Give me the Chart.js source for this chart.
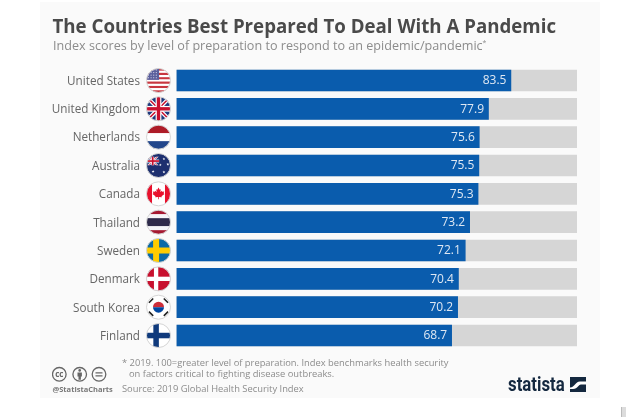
<!DOCTYPE html>
<html><head><meta charset="utf-8">
<script src="https://cdn.jsdelivr.net/npm/chart.js@4"></script>
<style>
html,body{margin:0;padding:0;background:#fff;width:626px;height:417px;overflow:hidden;font-family:"Open Sans",sans-serif}
#panel{position:absolute;left:40px;top:2px;width:560px;height:396px;background:#fafafa}
#corner{position:absolute;left:621px;top:407px;width:5px;height:10px;background:#dcdcdc;border-left:1px solid #bbb;box-sizing:border-box}
canvas{position:absolute;left:0;top:0}
.t{position:absolute;white-space:nowrap}
#title{left:52.5px;top:13px;font-size:18.7px;font-weight:700;color:#4a4a4a;line-height:26px}
#sub{left:53px;top:37px;font-size:12.6px;color:#8c8c8c;line-height:18px}
#sub sup{font-size:7px;line-height:0}
.fn{font-size:9.35px;color:#8c8c8c;line-height:12px}
#handle{left:52.5px;top:384px;font-size:7.5px;font-weight:700;color:#777;line-height:10px}
#logo{left:507.5px;top:372px;font-family:"Roboto",sans-serif;font-weight:700;font-size:20px;color:#14283f;line-height:24px;transform-origin:left center;transform:scaleX(.84)}
svg{position:absolute}
</style></head><body>
<div id="panel"></div>
<div id="corner"></div>
<canvas id="c" width="626" height="417"></canvas>
<div class="t" id="title">The Countries Best Prepared To Deal With A Pandemic</div>
<div class="t" id="sub">Index scores by level of preparation to respond to an epidemic/pandemic<sup>*</sup></div>
<div class="t fn" style="left:122px;top:357px">* 2019. 100=greater level of preparation. Index benchmarks health security</div>
<div class="t fn" style="left:129px;top:368px">on factors critical to fighting disease outbreaks.</div>
<div class="t fn" style="left:122px;top:383px">Source: 2019 Global Health Security Index</div>
<div class="t" id="handle">@StatistaCharts</div>
<svg style="left:52px;top:366px" width="60" height="18" viewBox="0 0 60 18" fill="none" stroke="#666" stroke-width="1.3">
<circle cx="7.3" cy="8.3" r="6.8"/><circle cx="27.7" cy="8.3" r="6.8"/><circle cx="47" cy="8.3" r="6.8"/>
<text x="7.3" y="11" text-anchor="middle" font-size="8" font-weight="700" fill="#666" stroke="none" font-family="Open Sans">cc</text>
<circle cx="27.7" cy="4.4" r="1.3" fill="#666" stroke="none"/><path d="M25.5 6.4h4.4v4.2h-1v3.2h-2.4v-3.2h-1z" fill="#666" stroke="none"/>
<path d="M43.5 6.8h7M43.5 9.8h7"/>
</svg>
<div class="t" id="logo">statista</div>
<svg style="left:570px;top:377px" width="16" height="15" viewBox="0 0 16 15"><rect width="16" height="15" fill="#14283f"/><path d="M0 10.5C5 10.5 5 4.5 10 4.5H16V7.5H11C8 7.5 8 12 3 12H0Z" fill="#fff"/></svg>
<script>
const categories=["United States","United Kingdom","Netherlands","Australia","Canada","Thailand","Sweden","Denmark","South Korea","Finland"];
const scores=[83.5,77.9,75.6,75.5,75.3,73.2,72.1,70.4,70.2,68.7];
const maxScores=[100,100,100,100,100,100,100,100,100,100];

function stripes(g,x,y,r,cols,w){const n=w||cols.map(()=>1),s=n.reduce((a,b)=>a+b,0);let t=y-r;cols.forEach((c,i)=>{const h=2*r*n[i]/s;g.fillStyle=c;g.fillRect(x-r,t,2*r,h+.3);t+=h;});}
function nordic(g,x,y,r,bg,cr,w){g.fillStyle=bg;g.fillRect(x-r,y-r,2*r,2*r);g.fillStyle=cr;g.fillRect(x-r,y-r*w/2,2*r,r*w);g.fillRect(x-r*.2-r*w/2,y-r,r*w,2*r);}
function star(g,x,y,s,c){g.fillStyle=c;g.beginPath();for(let i=0;i<10;i++){const a=-Math.PI/2+i*Math.PI/5,q=i%2?s*.42:s;g.lineTo(x+q*Math.cos(a),y+q*Math.sin(a));}g.fill();}
function leaf(g,x,y,s,c){const p=[[0,-1],[.2,-.62],[.38,-.72],[.3,-.22],[.55,-.48],[.62,-.3],[.95,-.35],[.85,-.05],[1,.05],[.5,.45],[.55,.62],[.06,.55],[.06,.95],[-.06,.95],[-.06,.55],[-.55,.62],[-.5,.45],[-1,.05],[-.85,-.05],[-.95,-.35],[-.62,-.3],[-.55,-.48],[-.3,-.22],[-.38,-.72],[-.2,-.62]];g.fillStyle=c;g.beginPath();p.forEach(q=>g.lineTo(x+q[0]*s,y+q[1]*s));g.closePath();g.fill();}
function union(g,x,y,r,u){g.fillStyle="#1f3a7d";g.fillRect(x-r,y-r,2*r,2*r);g.lineCap="butt";g.strokeStyle="#fff";g.lineWidth=u*.32;
 g.beginPath();g.moveTo(x-r,y-r);g.lineTo(x+r,y+r);g.moveTo(x+r,y-r);g.lineTo(x-r,y+r);g.stroke();
 g.strokeStyle="#c8102e";g.lineWidth=u*.12;g.stroke();
 g.fillStyle="#fff";g.fillRect(x-r,y-u*.24,2*r,u*.48);g.fillRect(x-u*.24,y-r,u*.48,2*r);
 g.fillStyle="#c8102e";g.fillRect(x-r,y-u*.14,2*r,u*.28);g.fillRect(x-u*.14,y-r,u*.28,2*r);}
const flags={
"United States":(g,x,y,r)=>{const n=11;for(let i=0;i<n;i++){g.fillStyle=i%2?"#fff":"#c8363f";g.fillRect(x-r,y-r+i*2*r/n,2*r,2*r/n+.3);}g.fillStyle="#5a5f9c";g.fillRect(x-r,y-r,r*1.05,r*.95);g.fillStyle="#d8d8ea";for(let a=0;a<4;a++)for(let b=0;b<4;b++)g.fillRect(x-r+1.5+b*2.6,y-r+1+a*2.6,1,1);},
"United Kingdom":(g,x,y,r)=>union(g,x,y,r,r),
"Netherlands":(g,x,y,r)=>stripes(g,x,y,r,["#ae1c28","#fff","#21468b"]),
"Australia":(g,x,y,r)=>{g.fillStyle="#1d2f6f";g.fillRect(x-r,y-r,2*r,2*r);g.save();g.beginPath();g.rect(x-r,y-r*.72,r*1.05,r*.7);g.clip();union(g,x-r*.48,y-r*.37,r*.6,r*.5);g.restore();[[.45,-.55],[.78,-.1],[.45,.55],[.15,-.05],[-.45,.5]].forEach(p=>star(g,x+p[0]*r,y+p[1]*r,1.5,"#fff"));},
"Canada":(g,x,y,r)=>{g.fillStyle="#fff";g.fillRect(x-r,y-r,2*r,2*r);g.fillStyle="#e8112d";g.fillRect(x-r,y-r,r*.46,2*r);g.fillRect(x+r*.54,y-r,r*.46,2*r);leaf(g,x,y-r*.02,r*.5,"#e8112d");},
"Thailand":(g,x,y,r)=>stripes(g,x,y,r,["#a51931","#f4f5f8","#2d2a4a","#f4f5f8","#a51931"],[1,1,2,1,1]),
"Sweden":(g,x,y,r)=>nordic(g,x,y,r,"#0a6aa7","#fecc00",.5),
"Denmark":(g,x,y,r)=>nordic(g,x,y,r,"#c8102e","#fff",.36),
"South Korea":(g,x,y,r)=>{g.fillStyle="#fff";g.fillRect(x-r,y-r,2*r,2*r);g.fillStyle="#cd2e3a";g.beginPath();g.arc(x,y,r*.46,Math.PI,2*Math.PI);g.fill();g.fillStyle="#0047a0";g.beginPath();g.arc(x,y,r*.46,0,Math.PI);g.fill();g.strokeStyle="#222";g.lineWidth=1.6;[[-.62,-.55],[.62,-.55],[-.62,.55],[.62,.55]].forEach(p=>{const s=p[0]*p[1]>0?1:-1;g.save();g.translate(x+p[0]*r,y+p[1]*r);g.rotate(s*Math.PI/4+Math.PI/2);g.beginPath();g.moveTo(-3,0);g.lineTo(3,0);g.stroke();g.restore();});},
"Finland":(g,x,y,r)=>nordic(g,x,y,r,"#fff","#103a7c",.46)
};
const flagPlugin={id:"flags",afterDraw(ch){const g=ch.ctx,sc=ch.scales.y,x=sc.right-18,r=12;
 categories.forEach((c,i)=>{const y=sc.getPixelForValue(i);g.save();g.beginPath();g.arc(x,y,r,0,2*Math.PI);g.clip();flags[c](g,x,y,r);g.restore();g.beginPath();g.arc(x,y,r,0,2*Math.PI);g.strokeStyle="#d4d4d4";g.lineWidth=1;g.stroke();});}};
const labelPlugin={id:"vals",afterDatasetsDraw(ch){const g=ch.ctx,m=ch.getDatasetMeta(1);g.save();g.font='12px "Open Sans"';g.fillStyle="#dfe8f3";g.textAlign="right";g.textBaseline="middle";
 m.data.forEach((b,i)=>g.fillText(scores[i].toFixed(1),b.x-4.5,b.y+.5));g.restore();}};

new Chart(document.getElementById("c"),{type:"bar",
 data:{labels:categories,datasets:[
  {data:maxScores,backgroundColor:"#d6d6d6",order:2,barThickness:21,grouped:false},
  {data:scores,backgroundColor:"#0a5cad",order:1,barThickness:21,grouped:false}]},
 options:{indexAxis:"y",responsive:false,animation:false,devicePixelRatio:1,
  layout:{padding:{top:66.3,bottom:67.3,right:49,left:0}},
  plugins:{legend:{display:false},tooltip:{enabled:false}},
  scales:{
   x:{display:false,min:0,max:100},
   y:{afterFit(s){s.width=176.5;},grid:{display:false,drawTicks:false},border:{display:false},
      ticks:{padding:36.5,labelOffset:1,color:"#666666",font:{family:"Open Sans",size:11.7}}}}},
 plugins:[flagPlugin,labelPlugin]});
</script>
</body></html>
